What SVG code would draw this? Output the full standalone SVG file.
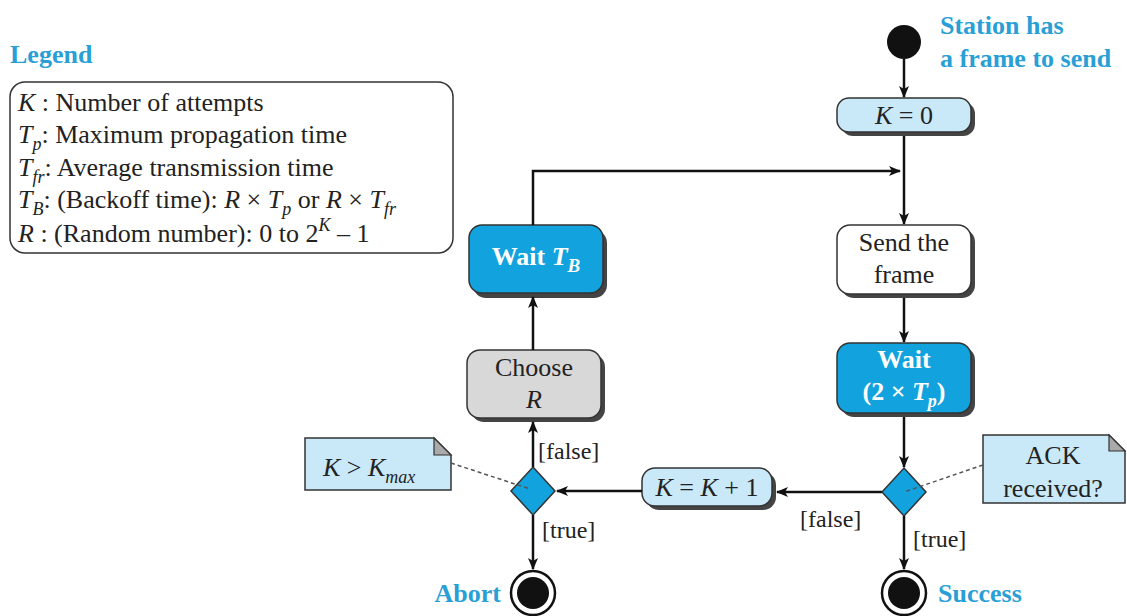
<svg xmlns="http://www.w3.org/2000/svg" width="1127" height="616" viewBox="0 0 1127 616" font-family="Liberation Serif, Times New Roman, serif">
<style>
text{font-family:"Liberation Serif", "Times New Roman", Times, serif}
.t{font-size:26px;fill:#222}
.i{font-style:italic}
.w{fill:#fff;font-weight:bold}
.ttl{font-size:26px;font-weight:bold;fill:#2a9fd6}
.lbl{font-size:24px;fill:#222}
.box{stroke:#333;stroke-width:1.5}
.sh{fill:#444}
.lb{fill:#c9e8f8}
.bb{fill:#12a2dd}
.gr{fill:#d8d8d8}
.wh{fill:#fff}
.c{fill:none;stroke:#111;stroke-width:2.5}
.d{fill:none;stroke:#555;stroke-width:1.5;stroke-dasharray:4 3}
</style>
<defs>
<marker id="ah" viewBox="0 0 12 10" refX="11" refY="5" markerWidth="12" markerHeight="10" markerUnits="userSpaceOnUse" orient="auto">
<path d="M0,0 L12,5 L0,10 L3,5 z" fill="#111"/>
</marker>
</defs>

<g id="legend">
<text class="ttl" x="10" y="63">Legend</text>
<rect x="10" y="82" width="443" height="171" rx="15" fill="#fff" stroke="#333" stroke-width="1.5"/>
<text class="t" x="18" y="111"><tspan class="i">K</tspan> : Number of attempts</text>
<text class="t" x="18" y="143"><tspan class="i">T</tspan><tspan class="i" font-size="18" dy="7">p</tspan><tspan dy="-7">: Maximum propagation time</tspan></text>
<text class="t" x="18" y="176"><tspan class="i">T</tspan><tspan class="i" font-size="18" dy="7">fr</tspan><tspan dy="-7">: Average transmission time</tspan></text>
<text class="t" x="18" y="208"><tspan class="i">T</tspan><tspan class="i" font-size="18" dy="7">B</tspan><tspan dy="-7">: (Backoff time): </tspan><tspan class="i">R</tspan> × <tspan class="i">T</tspan><tspan class="i" font-size="18" dy="7">p</tspan><tspan dy="-7"> or </tspan><tspan class="i">R</tspan> × <tspan class="i">T</tspan><tspan class="i" font-size="18" dy="7">fr</tspan></text>
<text class="t" x="18" y="242"><tspan class="i">R</tspan> : (Random number): 0 to 2<tspan class="i" font-size="18" dy="-11">K</tspan><tspan dy="11"> – 1</tspan></text>
</g>

<g id="start">
<circle cx="904" cy="42" r="17" fill="#111"/>
<text class="ttl" x="940" y="34">Station has</text>
<text class="ttl" x="940" y="67">a frame to send</text>
</g>

<g id="k0">
<rect class="sh" x="841" y="102" width="134" height="34" rx="12"/>
<rect class="box lb" x="837" y="98" width="134" height="34" rx="12"/>
<text class="t" x="904" y="124" text-anchor="middle"><tspan class="i">K</tspan> = 0</text>
</g>

<g id="send">
<rect class="sh" x="841" y="229" width="134" height="69" rx="13"/>
<rect class="box wh" x="837" y="225" width="134" height="69" rx="13"/>
<text class="t" x="904" y="251" text-anchor="middle">Send the</text>
<text class="t" x="904" y="283" text-anchor="middle">frame</text>
</g>

<g id="wait2tp">
<rect class="sh" x="841" y="347" width="134" height="70" rx="13"/>
<rect class="box bb" x="837" y="343" width="134" height="70" rx="13"/>
<text class="t w" x="904" y="368" text-anchor="middle">Wait</text>
<text class="t w" x="904" y="400" text-anchor="middle">(2 × <tspan class="i">T</tspan><tspan class="i" font-size="18" dy="7">p</tspan><tspan dy="-7">)</tspan></text>
</g>

<g id="waittb">
<rect class="sh" x="473" y="230" width="134" height="68" rx="13"/>
<rect class="box bb" x="469" y="225" width="134" height="68" rx="13"/>
<text class="t w" x="536" y="265" text-anchor="middle">Wait <tspan class="i">T</tspan><tspan class="i" font-size="19" dy="7">B</tspan></text>
</g>

<g id="chooser">
<rect class="sh" x="471" y="354" width="134" height="68" rx="13"/>
<rect class="box gr" x="467" y="350" width="134" height="68" rx="13"/>
<text class="t" x="534" y="376" text-anchor="middle">Choose</text>
<text class="t i" x="534" y="408" text-anchor="middle">R</text>
</g>

<g id="kplus">
<rect class="sh" x="646" y="472" width="130" height="38" rx="13"/>
<rect class="box lb" x="642" y="468" width="130" height="38" rx="13"/>
<text class="t" x="707" y="496" text-anchor="middle"><tspan class="i">K</tspan> = <tspan class="i">K</tspan> + 1</text>
</g>

<g id="dec-ack">
<polygon class="box bb" points="904,468 926,492 904,516 882,492"/>
</g>

<g id="dec-kmax">
<polygon class="box bb" points="533,467 555,491 533,515 511,491"/>
</g>

<g id="note-kmax">
<path class="box lb" d="M305,438 H434 L451,455 V490 H305 Z"/>
<path d="M434,438 V455 H451 Z" fill="#aaa" stroke="#333" stroke-width="1.2"/>
<text class="t" x="323" y="476"><tspan class="i">K</tspan> &gt; <tspan class="i">K</tspan><tspan class="i" font-size="18" dy="7">max</tspan></text>
</g>

<g id="note-ack">
<path class="box lb" d="M983,435 H1109 L1125,451 V503 H983 Z"/>
<path d="M1109,435 V451 H1125 Z" fill="#aaa" stroke="#333" stroke-width="1.2"/>
<text class="t" x="1053" y="464" text-anchor="middle">ACK</text>
<text class="t" x="1053" y="497" text-anchor="middle">received?</text>
</g>

<g id="abort">
<circle cx="533" cy="593" r="22" fill="#fff" stroke="#111" stroke-width="2.5"/>
<circle cx="533" cy="593" r="16" fill="#111"/>
<text class="ttl" x="501" y="602" text-anchor="end">Abort</text>
</g>

<g id="success">
<circle cx="904" cy="593" r="22" fill="#fff" stroke="#111" stroke-width="2.5"/>
<circle cx="904" cy="593" r="16" fill="#111"/>
<text class="ttl" x="938" y="602">Success</text>
</g>

<g id="connectors">
<path class="c" d="M904,59 V97" marker-end="url(#ah)"/>
<path class="c" d="M904,136 V224" marker-end="url(#ah)"/>
<path class="c" d="M533,225 V171 H900" marker-end="url(#ah)"/>
<path class="c" d="M904,298 V342" marker-end="url(#ah)"/>
<path class="c" d="M904,417 V467" marker-end="url(#ah)"/>
<path class="c" d="M882,492 H777" marker-end="url(#ah)"/>
<path class="c" d="M642,491 H557" marker-end="url(#ah)"/>
<path class="c" d="M533,467 V422" marker-end="url(#ah)"/>
<path class="c" d="M533,350 V297" marker-end="url(#ah)"/>
<path class="c" d="M533,515 V569" marker-end="url(#ah)"/>
<path class="c" d="M904,516 V569" marker-end="url(#ah)"/>
<path class="d" d="M451,463 L530,489"/>
<path class="d" d="M983,465 L904,492"/>
<text class="lbl" x="538" y="459">[false]</text>
<text class="lbl" x="542" y="538">[true]</text>
<text class="lbl" x="800" y="527">[false]</text>
<text class="lbl" x="913" y="547">[true]</text>
</g>
</svg>
